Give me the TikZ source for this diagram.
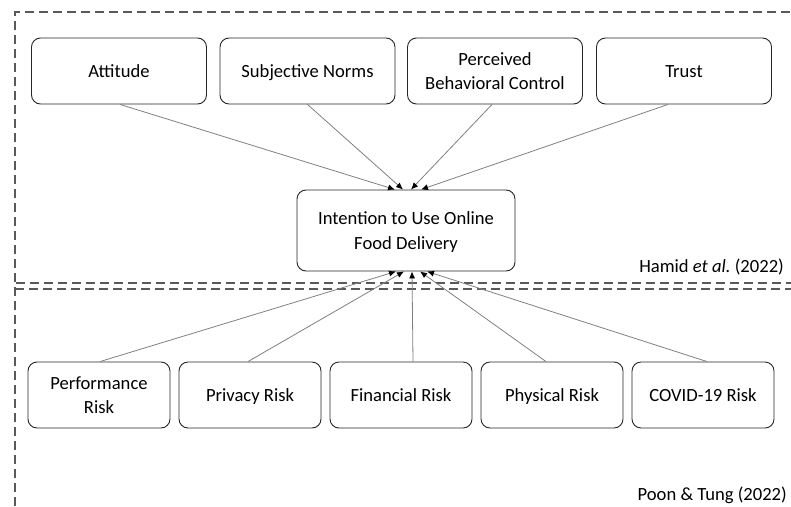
\documentclass[tikz,border=0pt]{standalone}
\usepackage{fontspec}
\setmainfont{Carlito}
\usetikzlibrary{arrows.meta,calc}
\newcommand{\lstrut}{\rule[-5.75pt]{0pt}{24.5pt}}
\begin{document}
\begin{tikzpicture}[x=1pt,y=-1pt,
  box/.style={draw=black!85,line width=0.9pt,rounded corners=9pt,align=center,
    font=\fontsize{18.6}{24.5}\selectfont,inner sep=2pt},
  topbox/.style={box,minimum width=175pt,minimum height=66pt},
  riskbox/.style={box,minimum width=142pt,minimum height=66pt},
  conn/.style={draw=black!50,line width=0.8pt,-{Latex[length=7pt,width=6pt,black]}},
  frame/.style={draw=black!65,line width=1.2pt,dash pattern=on 9pt off 5pt},
  lbl/.style={font=\fontsize{18.6}{24}\selectfont,anchor=east,inner sep=0pt}]
\useasboundingbox (0,0) rectangle (791,506);
% frames
\draw[frame] (15,506) -- (15,12) -- (800,12);
\draw[frame] (16,283) -- (800,283);
\draw[frame] (15,289) -- (800,289);
% top nodes
\node[topbox] (att) at (119,71) {\lstrut Attitude};
\node[topbox] (sn) at (307.5,71) {\lstrut Subjective Norms};
\node[topbox] (pbc) at (495,71) {\lstrut Perceived\\\lstrut Behavioral Control};
\node[topbox] (tr) at (684,71) {\lstrut Trust};
% center
\node[box,minimum width=218pt,minimum height=81pt] (int) at (406,230.5) {\lstrut Intention to Use Online\\\lstrut Food Delivery};
% bottom nodes
\node[riskbox] (perf) at (99,395) {\lstrut Performance\\\lstrut Risk};
\node[riskbox] (priv) at (250,395) {\lstrut Privacy Risk};
\node[riskbox] (fin) at (401,395) {\lstrut Financial Risk};
\node[riskbox] (phys) at (552,395) {\lstrut Physical Risk};
\node[riskbox] (covid) at (703,395) {\lstrut COVID-19 Risk};
% labels
\node[lbl] (hamid) at (784,267) {Hamid \textit{et al.}\ (2022)};
\node[lbl] (poon) at (787,495) {Poon \& Tung (2022)};
% connectors top
\draw[conn] ($(att.south)+(1,0)$) -- ($(int.north)+(-11,0)$);
\draw[conn] (sn.south) -- ($(int.north)+(-3,0)$);
\draw[conn] ($(pbc.south)+(-3,0)$) -- ($(int.north)+(5,0)$);
\draw[conn] ($(tr.south)+(-16,0)$) -- ($(int.north)+(15,0)$);
% connectors bottom
\draw[conn] ($(perf.north)+(1,0)$) -- ($(int.south)+(-10,0)$);
\draw[conn] ($(priv.north)+(-2,0)$) -- ($(int.south)+(-2,0)$);
\draw[conn] ($(fin.north)+(12,0)$) -- ($(int.south)+(6,0)$);
\draw[conn] ($(phys.north)+(-6,0)$) -- ($(int.south)+(14,0)$);
\draw[conn] ($(covid.north)+(4,0)$) -- ($(int.south)+(21,0)$);
\end{tikzpicture}
\end{document}
